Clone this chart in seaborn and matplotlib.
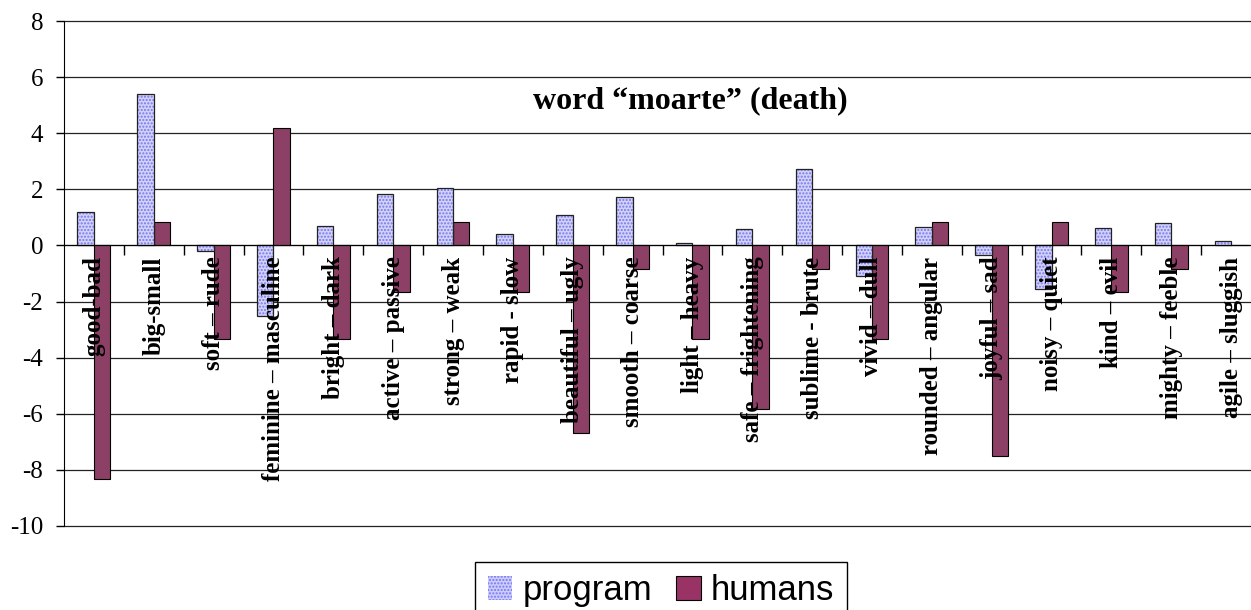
import numpy as np
import pandas as pd
import seaborn as sns
import matplotlib.pyplot as plt
from matplotlib.patches import Rectangle

pairs = ['good-bad', 'big-small', 'soft \u2013 rude', 'feminine \u2013 masculine',
         'bright \u2013 dark', 'active \u2013 passive', 'strong \u2013 weak',
         'rapid - slow', 'beautiful \u2013 ugly', 'smooth \u2013 coarse',
         'light \u2013 heavy', 'safe \u2013 frightening', 'sublime - brute',
         'vivid \u2013 dull', 'rounded \u2013 angular', 'joyful \u2013 sad',
         'noisy \u2013 quiet', 'kind \u2013 evil', 'mighty \u2013 feeble',
         'agile \u2013 sluggish']
program = [1.2, 5.4, -0.2, -2.5, 0.7, 1.85, 2.05, 0.4, 1.07, 1.72,
           0.08, 0.58, 2.74, -1.1, 0.66, -0.35, -1.55, 0.62, 0.8, 0.17]
humans = [-8.33, 0.83, -3.33, 4.17, -3.33, -1.67, 0.83, -1.67, -6.67, -0.83,
          -3.33, -5.83, -0.83, -3.33, 0.83, -7.5, 0.83, -1.67, -0.83, 0.0]
yticks = [8, 6, 4, 2, 0, -2, -4, -6, -8, -10]

df = pd.DataFrame({'pair': pairs * 2,
                   'value': program + humans,
                   'who': ['program'] * len(pairs) + ['humans'] * len(pairs)})

sns.set_style('white')
plt.rcParams['font.family'] = ['Liberation Serif', 'DejaVu Serif']
plt.rcParams['text.color'] = 'black'
plt.rcParams['xtick.color'] = 'black'
plt.rcParams['ytick.color'] = 'black'

fig = plt.figure(figsize=(12.51, 6.10), dpi=100)
ax = fig.add_axes([64 / 1251, 1 - 526 / 610, 1197 / 1251, 505 / 610])

sns.barplot(data=df, x='pair', y='value', hue='who',
            palette={'program': '#ccccff', 'humans': '#993366'},
            width=0.55, gap=0, edgecolor='black', linewidth=0.8,
            legend=False, ax=ax, zorder=1)

# dotted texture on program bars, then a dark outline on top
n = len(pairs)
for p in ax.patches[:n]:
    p.set_edgecolor('#7777ee')
    p.set_hatch('.....')
    p.set_linewidth(0)
    ax.add_patch(Rectangle(p.get_xy(), p.get_width(), p.get_height(),
                           fill=False, edgecolor='#222222', lw=0.9, zorder=1.2))

for v in yticks:
    ax.axhline(v, color='#222222', lw=0.9, zorder=0, clip_on=False)

# tick labels must sit over the bars
ax.set_axisbelow(False)

ax.set_xlim(-0.5, n - 0.5)
ax.set_ylim(-10, 8)
ax.set_yticks(yticks)
ax.set_yticklabels([str(v) for v in yticks], fontsize=18)
ax.tick_params(axis='y', direction='out', length=6, width=1, pad=9, left=True)

ax.spines['bottom'].set_position(('data', 0))
ax.spines['top'].set_visible(False)
ax.spines['right'].set_visible(False)
ax.spines['left'].set_color('black')
ax.spines['bottom'].set_color('black')

ax.set_xticks(range(n))
ax.set_xticklabels(pairs, rotation=90, fontsize=18, fontweight='bold', va='top')
ax.set_xticks(np.arange(0.5, n - 0.5), minor=True)
ax.tick_params(axis='x', which='major', length=0, pad=8)
ax.tick_params(axis='x', which='minor', direction='out', length=7, width=1,
               bottom=True)
ax.set_xlabel('')
ax.set_ylabel('')

fig.text(690 / 1251, 1 - 101 / 610, 'word \u201cmoarte\u201d (death)',
         fontsize=23, fontweight='bold', ha='center', va='center')

handles = [plt.Rectangle((0, 0), 1, 1, facecolor='#ccccff', edgecolor='#7777ee',
                         hatch='.....', lw=0),
           plt.Rectangle((0, 0), 1, 1, facecolor='#993366', edgecolor='black', lw=0.8)]
leg = fig.legend(handles, ['program', 'humans'], loc='upper center', ncol=2,
                 bbox_to_anchor=(661 / 1251, 1 - 562 / 610), frameon=True,
                 fancybox=False, framealpha=1, edgecolor='black',
                 prop={'family': 'Liberation Sans', 'size': 25},
                 handlelength=0.7, handleheight=0.7, handletextpad=0.3,
                 columnspacing=0.7, borderpad=0.35, borderaxespad=0)

fig.savefig('out.png', dpi=100)
